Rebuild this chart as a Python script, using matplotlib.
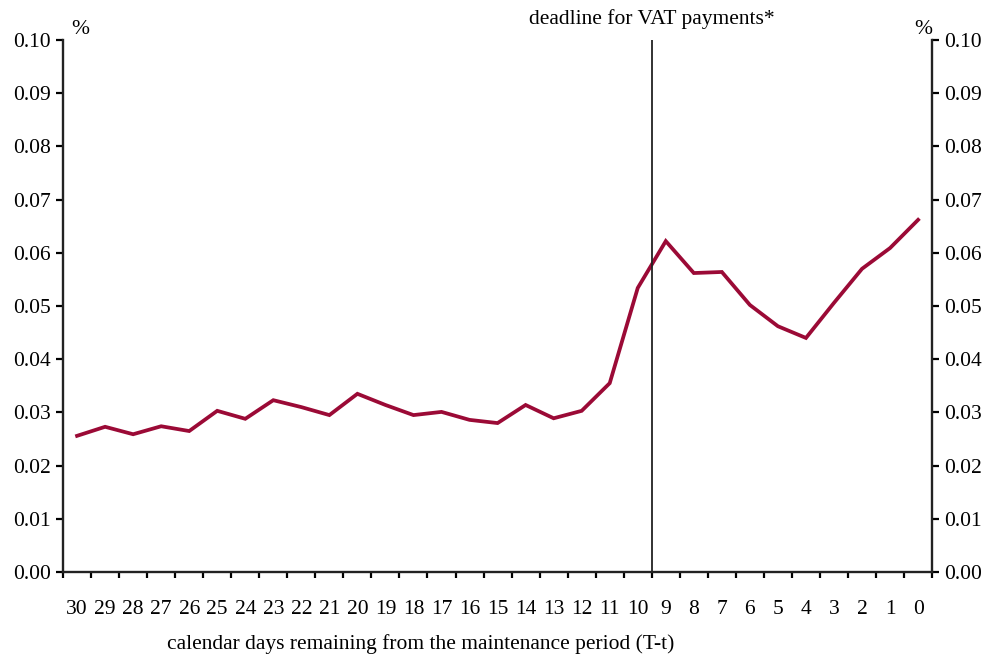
import matplotlib.pyplot as plt
import numpy as np

# giorni rimanenti e valori (%)
days = list(range(30, -1, -1))
values = [0.0256, 0.0273, 0.0259, 0.0274, 0.0265, 0.0303, 0.0288, 0.0323,
          0.0310, 0.0295, 0.0335, 0.0314, 0.0295, 0.0301, 0.0286, 0.0280,
          0.0314, 0.0289, 0.0303, 0.0355, 0.0534, 0.0622, 0.0562, 0.0564,
          0.0502, 0.0462, 0.0440, 0.0506, 0.0570, 0.0609, 0.0662]
yticks = [0.00, 0.01, 0.02, 0.03, 0.04, 0.05, 0.06, 0.07, 0.08, 0.09, 0.10]
deadline_day = 9

plt.rcParams['font.family'] = ['Liberation Serif', 'DejaVu Serif']
plt.rcParams['font.size'] = 15.5

fig = plt.figure(figsize=(9.82, 6.56), dpi=100)
ax = fig.add_axes([0.0642, 0.128, 0.885, 0.811])

x = np.arange(len(days))
ax.plot(x, values, color='#9B0A36', lw=2.7, solid_joinstyle='miter')

# linea verticale sul confine tra 10 e 9
xd = days.index(deadline_day) - 0.5
ax.axvline(xd, color='#222222', lw=1.3)
fig.text(652 / 982, 1 - 19 / 656, 'deadline for VAT payments*', ha='center', va='center')

ax.set_xlim(-0.5, len(days) - 0.5)
ax.set_ylim(0, 0.10)
ax.set_xticks(x)
ax.set_xticklabels([str(d) for d in days])
ax.set_xticks(np.arange(-0.5, len(days)), minor=True)
ax.tick_params(axis='x', which='major', length=0, pad=20)
ax.tick_params(axis='x', which='minor', length=4, width=1.6, direction='out')

ax.set_yticks(yticks)
ax.set_yticklabels(['%.2f' % v for v in yticks])
ax.tick_params(axis='y', length=5, width=1.6, direction='out', pad=4,
               left=True, right=True, labelleft=True, labelright=True)

ax.spines['top'].set_visible(False)
for s in ['left', 'right', 'bottom']:
    ax.spines[s].set_linewidth(1.7)
    ax.spines[s].set_color('#222222')

fig.text(80 / 982, 1 - 29 / 656, '%', ha='center', va='center')
fig.text(923 / 982, 1 - 29 / 656, '%', ha='center', va='center')
fig.text(421 / 982, 1 - 644 / 656, 'calendar days remaining from the maintenance period (T-t)',
         ha='center', va='center')

fig.savefig('out.png', dpi=100)
